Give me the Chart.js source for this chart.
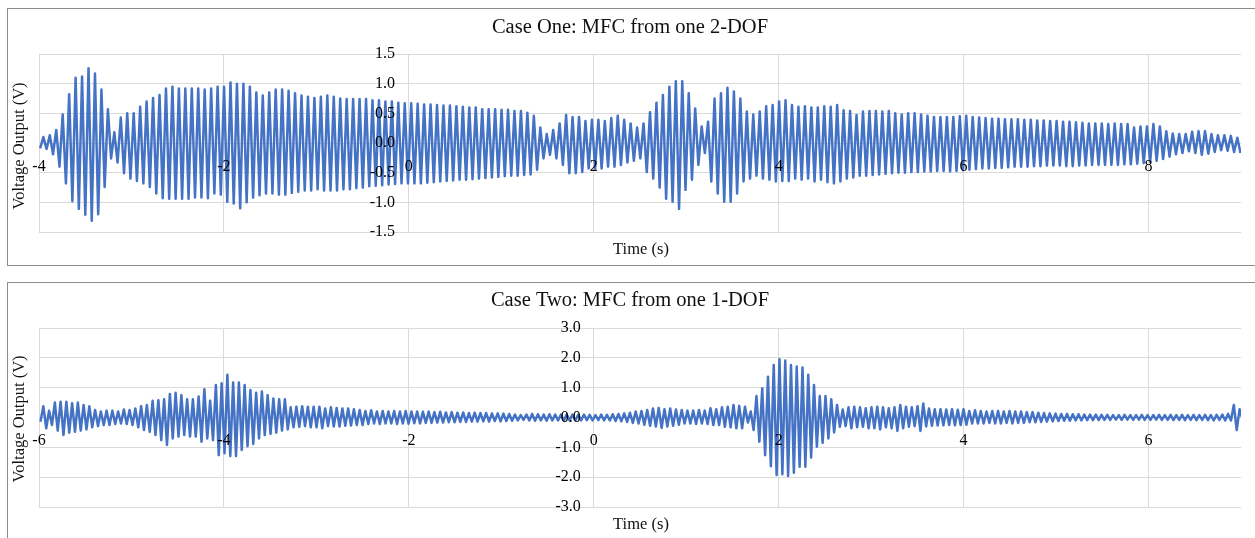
<!DOCTYPE html>
<html>
<head>
<meta charset="utf-8">
<title>MFC voltage output</title>
<script src="https://cdn.jsdelivr.net/npm/chart.js@4.4.1/dist/chart.umd.min.js"></script>
<style>
	html, body { margin: 0; padding: 0; background: #fff; overflow: hidden; }
	body { width: 1255px; height: 538px; position: relative; }
	.panel { position: absolute; left: 7px; width: 1260px; border: 1px solid #8c8c8c; background: #fff; }
	#panelOne { top: 8px; height: 256px; }
	#panelTwo { top: 282px; height: 270px; }
	canvas { position: absolute; left: 0; top: 0; }
</style>
</head>
<body>
<div class="panel" id="panelOne"><canvas id="caseOneChart" width="1247" height="256"></canvas></div>
<div class="panel" id="panelTwo"><canvas id="caseTwoChart" width="1247" height="255"></canvas></div>
<script>
// Case One: peak (high) and trough (low) voltage of each oscillation cycle
const caseOneFirstPeak = -3.953;   // time of first peak (s)
const caseOnePeriod = 0.0698;      // oscillation period (s)
const caseOneLead = -0.09;         // trough just before the first peak
const caseOneHighs = [
	0.10, 0.13, 0.22, 0.48, 0.82, 1.10, 1.12, 1.26, 1.17, 0.90,
	0.57, 0.18, 0.43, 0.50, 0.50, 0.61, 0.70, 0.76, 0.81, 0.92,
	0.95, 0.92, 0.92, 0.92, 0.92, 0.90, 0.92, 0.95, 0.95, 1.02,
	1.00, 1.00, 0.95, 0.85, 0.80, 0.85, 0.90, 0.90, 0.88, 0.84,
	0.80, 0.78, 0.76, 0.78, 0.80, 0.78, 0.75, 0.74, 0.74, 0.74,
	0.74, 0.72, 0.72, 0.70, 0.70, 0.68, 0.67, 0.67, 0.66, 0.65,
	0.65, 0.64, 0.63, 0.63, 0.62, 0.61, 0.60, 0.60, 0.57, 0.57,
	0.57, 0.56, 0.56, 0.54, 0.54, 0.51, 0.46, 0.26, 0.15, 0.22,
	0.33, 0.47, 0.44, 0.44, 0.37, 0.39, 0.39, 0.37, 0.42, 0.46,
	0.39, 0.33, 0.26, 0.33, 0.52, 0.68, 0.81, 0.95, 1.04, 1.04,
	0.84, 0.58, 0.28, 0.36, 0.75, 0.84, 0.93, 0.87, 0.75, 0.53,
	0.48, 0.53, 0.62, 0.64, 0.70, 0.72, 0.64, 0.61, 0.62, 0.60,
	0.60, 0.62, 0.61, 0.64, 0.55, 0.54, 0.47, 0.53, 0.54, 0.54,
	0.53, 0.54, 0.50, 0.48, 0.50, 0.50, 0.48, 0.46, 0.44, 0.44,
	0.44, 0.44, 0.45, 0.46, 0.44, 0.43, 0.42, 0.41, 0.41, 0.40,
	0.40, 0.40, 0.39, 0.39, 0.38, 0.38, 0.37, 0.37, 0.36, 0.36,
	0.35, 0.34, 0.33, 0.33, 0.33, 0.32, 0.33, 0.32, 0.32, 0.26,
	0.28, 0.28, 0.32, 0.28, 0.20, 0.16, 0.15, 0.15, 0.19, 0.20,
	0.20, 0.15, 0.13, 0.13, 0.12, 0.09
];
const caseOneLows = [
	-0.10, -0.19, -0.40, -0.68, -0.98, -1.11, -1.21, -1.31, -1.20, -0.74,
	-0.26, -0.33, -0.51, -0.60, -0.64, -0.68, -0.74, -0.85, -0.93, -0.94,
	-0.94, -0.94, -0.94, -0.92, -0.92, -0.93, -0.85, -0.87, -0.99, -1.02,
	-1.10, -1.00, -0.92, -0.88, -0.85, -0.85, -0.87, -0.87, -0.84, -0.82,
	-0.80, -0.80, -0.78, -0.80, -0.80, -0.80, -0.78, -0.78, -0.76, -0.75,
	-0.73, -0.72, -0.71, -0.70, -0.69, -0.68, -0.68, -0.68, -0.68, -0.67,
	-0.66, -0.65, -0.64, -0.63, -0.62, -0.62, -0.61, -0.60, -0.59, -0.58,
	-0.57, -0.56, -0.55, -0.55, -0.54, -0.53, -0.45, -0.26, -0.20, -0.26,
	-0.37, -0.51, -0.51, -0.49, -0.43, -0.43, -0.43, -0.40, -0.40, -0.37,
	-0.33, -0.30, -0.26, -0.49, -0.60, -0.75, -0.94, -0.99, -1.11, -0.79,
	-0.62, -0.37, -0.17, -0.65, -0.85, -0.99, -0.99, -0.85, -0.65, -0.60,
	-0.55, -0.60, -0.62, -0.65, -0.64, -0.64, -0.60, -0.62, -0.60, -0.65,
	-0.62, -0.66, -0.68, -0.65, -0.60, -0.58, -0.55, -0.55, -0.54, -0.53,
	-0.52, -0.51, -0.50, -0.50, -0.49, -0.49, -0.48, -0.48, -0.47, -0.47,
	-0.48, -0.47, -0.46, -0.45, -0.44, -0.43, -0.43, -0.42, -0.42, -0.41,
	-0.40, -0.40, -0.40, -0.39, -0.39, -0.38, -0.38, -0.38, -0.39, -0.39,
	-0.38, -0.38, -0.37, -0.37, -0.37, -0.37, -0.37, -0.36, -0.36, -0.35,
	-0.34, -0.32, -0.30, -0.27, -0.23, -0.19, -0.17, -0.14, -0.17, -0.20,
	-0.18, -0.15, -0.12, -0.13, -0.15, -0.17
];
const caseOneXTicks = [-4, -2, 0, 2, 4, 6, 8];
const caseOneYTicks = [-1.5, -1.0, -0.5, 0.0, 0.5, 1.0, 1.5];

// Case Two
const caseTwoFirstPeak = -5.953;
const caseTwoPeriod = 0.0622;
const caseTwoLead = -0.14;
const caseTwoHighs = [
	0.38, 0.23, 0.50, 0.53, 0.53, 0.48, 0.50, 0.42, 0.38, 0.25,
	0.20, 0.23, 0.23, 0.20, 0.27, 0.25, 0.30, 0.38, 0.42, 0.56,
	0.58, 0.61, 0.79, 0.83, 0.75, 0.61, 0.61, 0.70, 0.95, 0.56,
	1.09, 1.15, 1.43, 1.17, 1.17, 1.09, 0.92, 0.83, 0.87, 0.75,
	0.64, 0.61, 0.61, 0.34, 0.36, 0.38, 0.36, 0.36, 0.36, 0.30,
	0.34, 0.32, 0.30, 0.30, 0.28, 0.25, 0.22, 0.24, 0.20, 0.22,
	0.20, 0.22, 0.20, 0.22, 0.20, 0.20, 0.19, 0.20, 0.18, 0.19,
	0.17, 0.18, 0.16, 0.17, 0.15, 0.16, 0.15, 0.15, 0.14, 0.14,
	0.13, 0.12, 0.10, 0.08, 0.10, 0.12, 0.11, 0.10, 0.11, 0.10,
	0.10, 0.11, 0.10, 0.09, 0.10, 0.09, 0.08, 0.10, 0.09, 0.11,
	0.12, 0.14, 0.16, 0.20, 0.22, 0.25, 0.30, 0.32, 0.28, 0.30,
	0.27, 0.25, 0.23, 0.23, 0.25, 0.23, 0.31, 0.28, 0.34, 0.36,
	0.42, 0.39, 0.36, 0.20, 0.72, 0.98, 1.37, 1.76, 1.95, 1.91,
	1.76, 1.71, 1.68, 1.43, 1.09, 0.72, 0.72, 0.61, 0.42, 0.27,
	0.34, 0.36, 0.34, 0.31, 0.34, 0.36, 0.34, 0.31, 0.34, 0.42,
	0.36, 0.34, 0.38, 0.47, 0.30, 0.28, 0.28, 0.27, 0.28, 0.26,
	0.28, 0.22, 0.24, 0.22, 0.20, 0.22, 0.22, 0.20, 0.22, 0.20,
	0.20, 0.18, 0.18, 0.16, 0.15, 0.14, 0.13, 0.12, 0.12, 0.11,
	0.11, 0.10, 0.10, 0.10, 0.09, 0.09, 0.08, 0.08, 0.09, 0.08,
	0.08, 0.09, 0.08, 0.08, 0.09, 0.08, 0.09, 0.08, 0.09, 0.08,
	0.09, 0.08, 0.09, 0.08, 0.09, 0.10, 0.12, 0.42, 0.28
];
const caseTwoLows = [
	-0.36, -0.25, -0.44, -0.59, -0.51, -0.48, -0.44, -0.40, -0.33, -0.29,
	-0.25, -0.25, -0.22, -0.20, -0.22, -0.25, -0.33, -0.42, -0.48, -0.59,
	-0.76, -0.92, -0.70, -0.64, -0.59, -0.64, -0.64, -0.81, -0.70, -0.76,
	-1.26, -1.20, -1.29, -1.29, -1.09, -0.96, -0.89, -0.70, -0.59, -0.55,
	-0.51, -0.44, -0.40, -0.33, -0.31, -0.29, -0.33, -0.33, -0.36, -0.29,
	-0.30, -0.30, -0.28, -0.27, -0.25, -0.25, -0.22, -0.20, -0.22, -0.20,
	-0.20, -0.22, -0.20, -0.21, -0.19, -0.20, -0.18, -0.18, -0.17, -0.17,
	-0.16, -0.16, -0.15, -0.15, -0.14, -0.14, -0.13, -0.14, -0.12, -0.13,
	-0.12, -0.11, -0.10, -0.08, -0.10, -0.11, -0.10, -0.11, -0.10, -0.10,
	-0.11, -0.10, -0.10, -0.10, -0.09, -0.10, -0.09, -0.10, -0.10, -0.12,
	-0.13, -0.15, -0.18, -0.20, -0.24, -0.28, -0.30, -0.35, -0.30, -0.28,
	-0.24, -0.20, -0.20, -0.22, -0.20, -0.22, -0.25, -0.25, -0.31, -0.33,
	-0.36, -0.36, -0.17, -0.42, -0.81, -1.26, -1.63, -1.93, -1.90, -1.96,
	-1.85, -1.65, -1.65, -1.34, -0.98, -0.85, -0.70, -0.50, -0.31, -0.29,
	-0.36, -0.33, -0.31, -0.36, -0.36, -0.40, -0.33, -0.36, -0.45, -0.36,
	-0.31, -0.29, -0.45, -0.30, -0.28, -0.27, -0.26, -0.25, -0.26, -0.25,
	-0.24, -0.20, -0.20, -0.20, -0.18, -0.20, -0.20, -0.18, -0.20, -0.18,
	-0.18, -0.16, -0.16, -0.15, -0.14, -0.13, -0.12, -0.11, -0.11, -0.10,
	-0.10, -0.09, -0.09, -0.09, -0.08, -0.08, -0.07, -0.08, -0.07, -0.08,
	-0.07, -0.08, -0.08, -0.07, -0.08, -0.08, -0.09, -0.08, -0.09, -0.08,
	-0.09, -0.08, -0.09, -0.10, -0.08, -0.10, -0.10, -0.42, -0.05
];
const caseTwoXTicks = [-6, -4, -2, 0, 2, 4, 6];
const caseTwoYTicks = [-3, -2, -1, 0, 1, 2, 3];

// each cycle: peak at its time, trough half a period later
function cyclePoints(lead, highs, lows, firstPeak, period) {
	const pts = [{ x: firstPeak - period / 2, y: lead }];
	highs.forEach((h, i) => {
		pts.push({ x: firstPeak + i * period, y: h });
		pts.push({ x: firstPeak + (i + 0.5) * period, y: lows[i] });
	});
	return pts;
}

// chart title and axis titles (axes sit at x = 0 / y = 0, so their own titles can't be used)
const panelText = {
	id: 'panelText',
	afterDraw(chart, args, o) {
		const ctx = chart.ctx;
		ctx.save();
		ctx.fillStyle = '#111';
		ctx.textAlign = 'center';
		ctx.textBaseline = 'middle';
		ctx.font = '20.5px "Liberation Serif"';
		ctx.fillText(o.title, o.titleX, o.titleY);
		ctx.font = '16.5px "Liberation Serif"';
		ctx.fillText(o.xTitle, o.xTitleX, o.xTitleY);
		ctx.translate(o.yTitleX, o.yTitleY);
		ctx.rotate(-Math.PI / 2);
		ctx.fillText(o.yTitle, 0, 0);
		ctx.restore();
	}
};

Chart.defaults.font.family = '"Liberation Serif", serif';
Chart.defaults.color = '#111';

// labelGap: how far (in x units) left of the zero line the y labels end
function drawCase(canvasId, points, xMin, xMax, xTicks, yTicks, labelGap, text, padBottom) {
	const grid = { color: '#dadada', lineWidth: 1, drawTicks: false };
	new Chart(document.getElementById(canvasId), {
		type: 'line',
		data: {
			datasets: [{
				data: points,
				borderColor: '#4472C4',
				borderWidth: 2.5,
				borderJoinStyle: 'round',
				pointRadius: 0,
				tension: 0,
				fill: false
			}]
		},
		options: {
			responsive: false,
			animation: false,
			events: [],
			layout: { padding: { left: 31, right: 14, top: 45, bottom: padBottom } },
			plugins: { legend: { display: false }, tooltip: { enabled: false }, panelText: text },
			scales: {
				x: {
					type: 'linear',
					min: xMin,
					max: xMax,
					position: { y: 0 },
					grid: grid,
					border: { display: false },
					afterBuildTicks: s => { s.ticks = xTicks.map(v => ({ value: v })); },
					ticks: { z: 1, padding: 14, maxRotation: 0, autoSkip: false, font: { size: 16 }, color: '#000', callback: v => String(v) }
				},
				y: {
					type: 'linear',
					min: yTicks[0],
					max: yTicks[yTicks.length - 1],
					position: { x: -labelGap },
					grid: grid,
					border: { display: false },
					afterBuildTicks: s => { s.ticks = yTicks.map(v => ({ value: v })); },
					ticks: { z: 1, padding: 0, autoSkip: false, font: { size: 16 }, color: '#000', callback: v => v.toFixed(1) }
				}
			}
		},
		plugins: [panelText]
	});
}

drawCase('caseOneChart',
	cyclePoints(caseOneLead, caseOneHighs, caseOneLows, caseOneFirstPeak, caseOnePeriod),
	-4, 9, caseOneXTicks, caseOneYTicks, 0.15,
	{ title: 'Case One: MFC from one 2-DOF', titleX: 622, titleY: 19,
	  xTitle: 'Time (s)', xTitleX: 633, xTitleY: 241,
	  yTitle: 'Voltage Output (V)', yTitleX: 12, yTitleY: 137 },
	33);

drawCase('caseTwoChart',
	cyclePoints(caseTwoLead, caseTwoHighs, caseTwoLows, caseTwoFirstPeak, caseTwoPeriod),
	-6, 7, caseTwoXTicks, caseTwoYTicks, 0.14,
	{ title: 'Case Two: MFC from one 1-DOF', titleX: 622, titleY: 18,
	  xTitle: 'Time (s)', xTitleX: 633, xTitleY: 242,
	  yTitle: 'Voltage Output (V)', yTitleX: 12, yTitleY: 136 },
	31);
</script>
</body>
</html>
